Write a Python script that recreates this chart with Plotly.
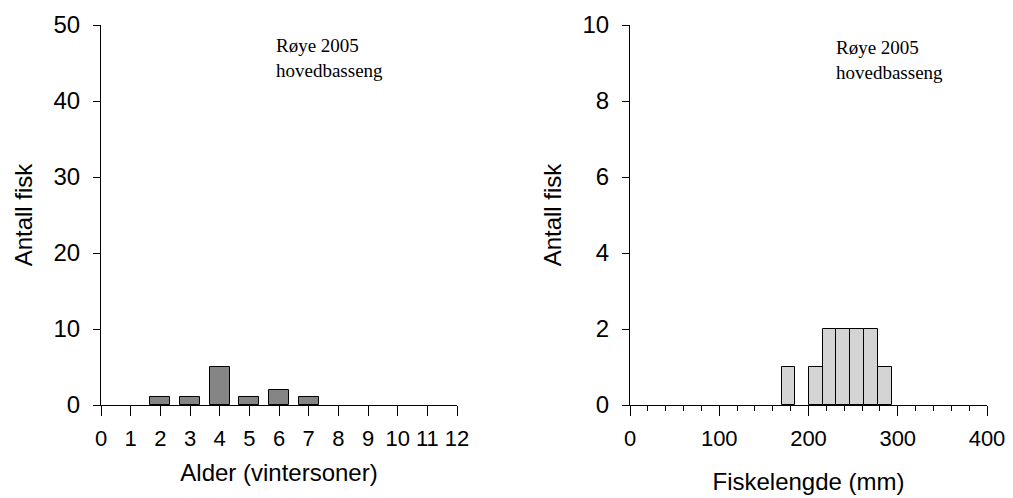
import plotly.graph_objects as go

# Left: age distribution
age = [2, 3, 4, 5, 6, 7]
age_count = [1, 1, 5, 1, 2, 1]
age_ticks = list(range(0, 13))

# Right: length distribution (bin centres, mm)
length_mm = [177.5, 208, 223.5, 239, 254.5, 270, 285.5]
length_count = [1, 1, 2, 2, 2, 2, 1]

annot_text = "Røye 2005<br>hovedbasseng"

W, H = 1013, 498
def fx(px): return px / W
def fy(py): return 1 - py / H

fig = go.Figure()
fig.add_trace(go.Bar(x=age, y=age_count, width=0.68,
                     marker=dict(color="#858585", line=dict(color="black", width=1)),
                     xaxis="x", yaxis="y", showlegend=False))
fig.add_trace(go.Bar(x=length_mm, y=length_count, width=15.5,
                     marker=dict(color="#d4d4d4", line=dict(color="black", width=1)),
                     xaxis="x2", yaxis="y2", showlegend=False))

xtick_font = dict(family="Liberation Sans, Arial", size=22, color="black")
ytick_font = dict(family="Liberation Sans, Arial", size=24, color="black")
title_font = dict(family="Liberation Sans, Arial", size=24, color="black")
axis_common = dict(showline=True, linecolor="black", linewidth=1, ticks="outside",
                   tickcolor="black", showgrid=False, zeroline=False, automargin=False)

fig.update_layout(
    width=W, height=H, margin=dict(l=0, r=0, t=0, b=0),
    plot_bgcolor="white", paper_bgcolor="white", bargap=0,
    xaxis=dict(domain=[fx(101), fx(457)], range=[0, 12], tickmode="array",
               tickvals=age_ticks, ticktext=[str(t) for t in age_ticks], ticklen=10,
               tickfont=xtick_font, ticklabelstandoff=4,
               anchor="y", title=dict(text="Alder (vintersoner)", font=title_font, standoff=13),
               **axis_common),
    yaxis=dict(domain=[fy(405), fy(25)], range=[0, 50], dtick=10, ticklen=7,
               tickfont=ytick_font, ticklabelstandoff=8,
               anchor="x", title=dict(text="Antall fisk", font=title_font, standoff=14),
               **axis_common),
    xaxis2=dict(domain=[fx(630), fx(987)], range=[0, 400], dtick=100, ticklen=10,
                tickfont=xtick_font, ticklabelstandoff=4,
                anchor="y2", minor=dict(dtick=20, ticklen=5, ticks="outside", tickcolor="black"),
                title=dict(text="Fiskelengde (mm)", font=title_font, standoff=22),
                **axis_common),
    yaxis2=dict(domain=[fy(405), fy(25)], range=[0, 10], dtick=2, ticklen=7,
                tickfont=ytick_font, ticklabelstandoff=8,
                anchor="x2", title=dict(text="Antall fisk", font=title_font, standoff=14),
                **axis_common),
)

serif = dict(family="Liberation Serif, Times New Roman", size=19, color="black")
for x0, y0 in [(274, 33), (834, 35)]:
    fig.add_annotation(text=annot_text, x=fx(x0), y=fy(y0), xref="paper", yref="paper",
                       xanchor="left", yanchor="top", align="left", showarrow=False,
                       font=serif)

fig.write_html("out.html")
